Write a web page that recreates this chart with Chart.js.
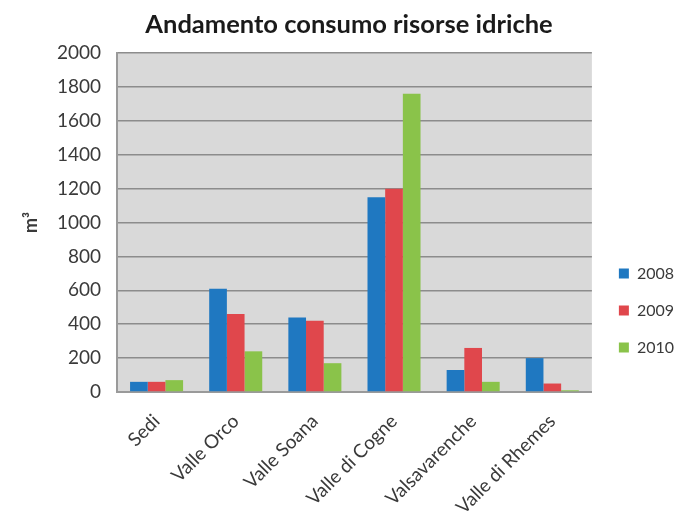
<!DOCTYPE html>
<html>
<head>
<meta charset="utf-8">
<script src="https://cdn.jsdelivr.net/npm/chart.js@4.4.0/dist/chart.umd.min.js"></script>
<style>
html,body{margin:0;padding:0;background:#fff;}
#wrap{width:678px;height:521px;}
</style>
</head>
<body>
<div id="wrap"><canvas id="c" width="678" height="521"></canvas></div>
<script>
const categories = ["Sedi", "Valle Orco", "Valle Soana", "Valle di Cogne", "Valsavarenche", "Valle di Rhemes"];
const series2008 = [60, 610, 440, 1150, 130, 200];
const series2009 = [60, 460, 420, 1200, 260, 50];
const series2010 = [70, 240, 170, 1760, 60, 10];
const seriesNames = ["2008", "2009", "2010"];
const yTicks = [0, 200, 400, 600, 800, 1000, 1200, 1400, 1600, 1800, 2000];

const FONT = "Lato, 'Open Sans', sans-serif";
const TEXT = '#3a3a3a';

const plotBg = {
  id: 'plotBg',
  beforeDraw(chart) {
    const {ctx, chartArea: a} = chart;
    ctx.save();
    ctx.fillStyle = '#d9d9d9';
    ctx.fillRect(a.left, a.top, a.right - a.left, a.bottom - a.top);
    ctx.restore();
  }
};

const legendShift = {
  id: 'legendShift',
  afterLayout(chart) {
    const lg = chart.legend;
    const dx = 6, dy = 47;
    lg.left += dx; lg.right += dx;
    lg.top += dy; lg.bottom += dy;
  }
};

new Chart(document.getElementById('c'), {
  type: 'bar',
  data: {
    labels: categories,
    datasets: [
      {label: seriesNames[0], data: series2008, backgroundColor: '#1f78c1'},
      {label: seriesNames[1], data: series2009, backgroundColor: '#e0474c'},
      {label: seriesNames[2], data: series2010, backgroundColor: '#8ac34a'}
    ]
  },
  plugins: [plotBg, legendShift],
  options: {
    responsive: false,
    animation: false,
    layout: {padding: {left: 20, right: 0, top: 6, bottom: 0}},
    datasets: {bar: {categoryPercentage: 0.67, barPercentage: 1.0}},
    plugins: {
      title: {
        display: true,
        text: 'Andamento consumo risorse idriche',
        color: '#1a1a1a',
        font: {family: FONT, size: 25.5, weight: 'bold'},
        padding: {top: 3, bottom: 13.5}
      },
      legend: {
        position: 'right',
        align: 'center',
        labels: {
          boxWidth: 10, boxHeight: 10,
          padding: 21,
          color: TEXT,
          font: {family: FONT, size: 16}
        }
      },
      tooltip: {enabled: false}
    },
    scales: {
      x: {
        grid: {display: false, drawTicks: false},
        border: {display: true, color: '#9a9a9a', width: 2},
        ticks: {
          color: TEXT,
          font: {family: FONT, size: 19},
          minRotation: 45, maxRotation: 45,
          padding: 18
        },
        afterFit(s) { s.height = 129; }
      },
      y: {
        min: 0, max: 2000,
        afterBuildTicks(s) { s.ticks = yTicks.map(v => ({value: v})); },
        grid: {color: '#8c8c8c', lineWidth: 1.5, drawTicks: false},
        border: {display: true, color: '#9a9a9a', width: 2},
        ticks: {
          color: TEXT,
          font: {family: FONT, size: 19},
          padding: 16,
          callback: (v) => String(v)
        },
        title: {
          display: true,
          text: 'm³',
          color: TEXT,
          font: {family: FONT, size: 18, weight: 'bold'},
          padding: {top: 0, bottom: 0}
        },
        afterFit(s) { s.width = 97; }
      }
    }
  }
});
</script>
</body>
</html>
